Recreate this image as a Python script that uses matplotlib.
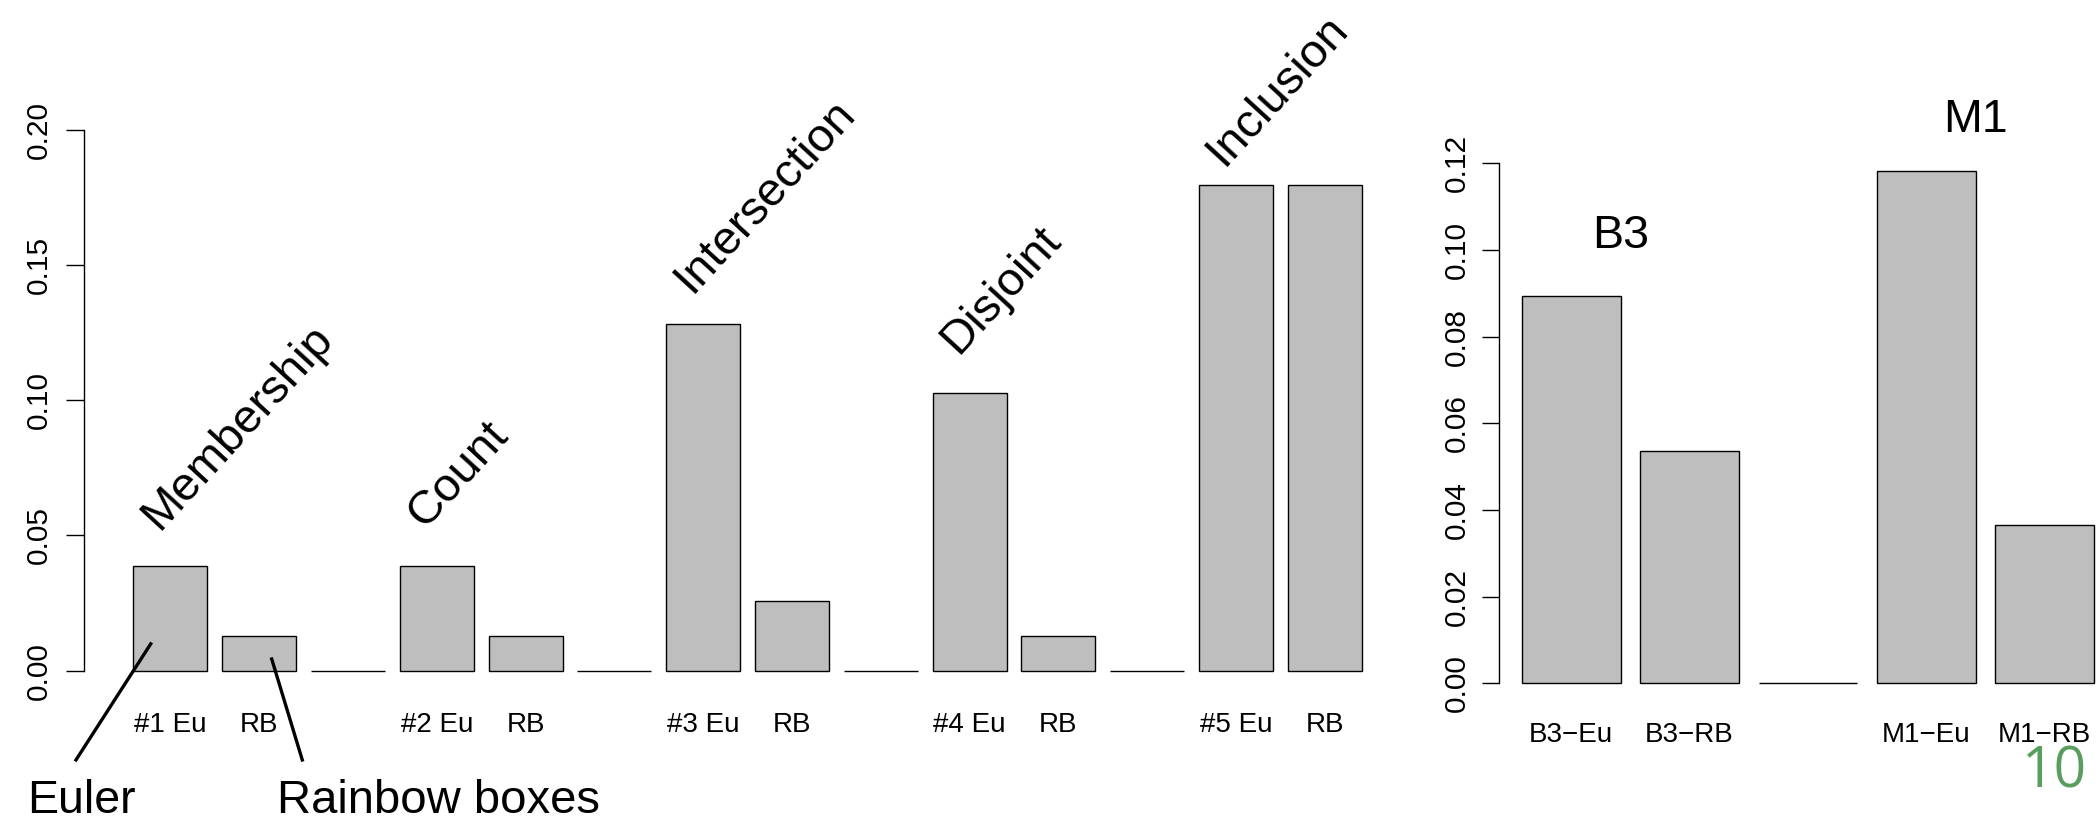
import numpy as np
import matplotlib
matplotlib.use("Agg")
import matplotlib.pyplot as plt

plt.rcParams['font.family'] = ['Liberation Sans', 'DejaVu Sans']

# left panel: 5 tasks, Euler vs Rainbow boxes, empty spacer bar between tasks
tasks = ['Membership', 'Count', 'Intersection', 'Disjoint', 'Inclusion']
euler = [0.0385, 0.0385, 0.1282, 0.1026, 0.1795]
rainbow = [0.0128, 0.0128, 0.0256, 0.0128, 0.1795]
pair_names = ['#1 Eu', 'RB', '#2 Eu', 'RB', '#3 Eu', 'RB', '#4 Eu', 'RB', '#5 Eu', 'RB']

# right panel
right_names = ['B3\u2212Eu', 'B3\u2212RB', '', 'M1\u2212Eu', 'M1\u2212RB']
right_vals = [0.0894, 0.0535, 0.0, 0.1181, 0.0365]
right_groups = ['B3', 'M1']

# label heights above the bars (layout)
label_lift = [0.0130, 0.0140, 0.0110, 0.0140, 0.0065]
group_lift = [0.011, 0.009]

left_vals = []
left_names = []
for i in range(len(tasks)):
    left_vals += [euler[i], rainbow[i]]
    left_names += [pair_names[2 * i], pair_names[2 * i + 1]]
    if i < len(tasks) - 1:
        left_vals.append(0.0)
        left_names.append('')

W, H = 2100, 819
fig = plt.figure(figsize=(W / 100, H / 100), dpi=100)

# R style barplot: width 1, space 0.2
def rbar(ax, vals, names, ylim, label_off):
    n = len(vals)
    x = 0.7 + 1.2 * np.arange(n)
    ax.bar(x, vals, width=1.0, color='#bebebe', edgecolor='black', linewidth=1.0)
    lo, hi = 0.2, 1.2 * n
    ext = 0.04 * (hi - lo)
    ax.set_xlim(lo - ext, hi + ext)
    ext_y = 0.04 * (ylim[1] - ylim[0])
    ax.set_ylim(ylim[0] - ext_y, ylim[1] + ext_y)
    for s in ['top', 'right', 'bottom']:
        ax.spines[s].set_visible(False)
    ax.spines['left'].set_bounds(ylim[0], ylim[1])
    ax.spines['left'].set_linewidth(1.0)
    ax.set_xticks([])
    for xi, nm in zip(x, names):
        if nm:
            ax.annotate(nm, xy=(xi, 0), xycoords=('data', 'axes fraction'),
                        xytext=(0, -label_off), textcoords='offset pixels',
                        ha='center', va='baseline', fontsize=20)
    return x

ax1 = fig.add_axes([84.2 / W, 1 - 692.3 / H, 1326.7 / W, 584.4 / H])
x1 = rbar(ax1, left_vals, left_names, (0, 0.2), 40)
ax1.set_yticks([0, 0.05, 0.10, 0.15, 0.20])
ax1.set_yticklabels(['0.00', '0.05', '0.10', '0.15', '0.20'], rotation=90, va='center')
ax1.tick_params(axis='y', length=12.7, width=1.0, pad=10, labelsize=21.5)

for i, t in enumerate(tasks):
    left_edge = x1[3 * i] - 0.5
    ax1.text(left_edge + 0.34, euler[i] + label_lift[i], t, rotation=47.5,
             rotation_mode='anchor', ha='left', va='baseline', fontsize=34)

# pointers to the first pair of bars
ax1.plot([0.435, -0.575], [0.0099, -0.033], color='black', lw=2.4, clip_on=False)
ax1.plot([2.070, 2.483], [0.0043, -0.033], color='black', lw=2.4, clip_on=False)
ax1.text(-1.23, -0.0527, 'Euler', fontsize=33.5, ha='left', va='baseline', clip_on=False)
ax1.text(2.14, -0.0527, 'Rainbow boxes', fontsize=34, ha='left', va='baseline', clip_on=False)

ax2 = fig.add_axes([1499.1 / W, 1 - 703.8 / H, 617.6 / W, 552.8 / H])
x2 = rbar(ax2, right_vals, right_names, (0, max(right_vals)), 38)
ax2.set_yticks([0, 0.02, 0.04, 0.06, 0.08, 0.10, 0.12])
ax2.set_yticklabels(['0.00', '0.02', '0.04', '0.06', '0.08', '0.10', '0.12'], rotation=90, va='center')
ax2.tick_params(axis='y', length=12.5, width=1.0, pad=8, labelsize=21.5)
ax2.spines['left'].set_bounds(0, 0.12)

for g, idx, lift in zip(right_groups, [0, 3], group_lift):
    ax2.text(x2[idx] + 0.5, right_vals[idx] + lift, g, ha='center', va='baseline', fontsize=33.5)

fig.text(2087 / W, 1 - 788 / H, '10', color='#5a9e5f', fontsize=41,
         family='Open Sans', ha='right', va='baseline')

fig.savefig('out.png', dpi=100, facecolor='white')
